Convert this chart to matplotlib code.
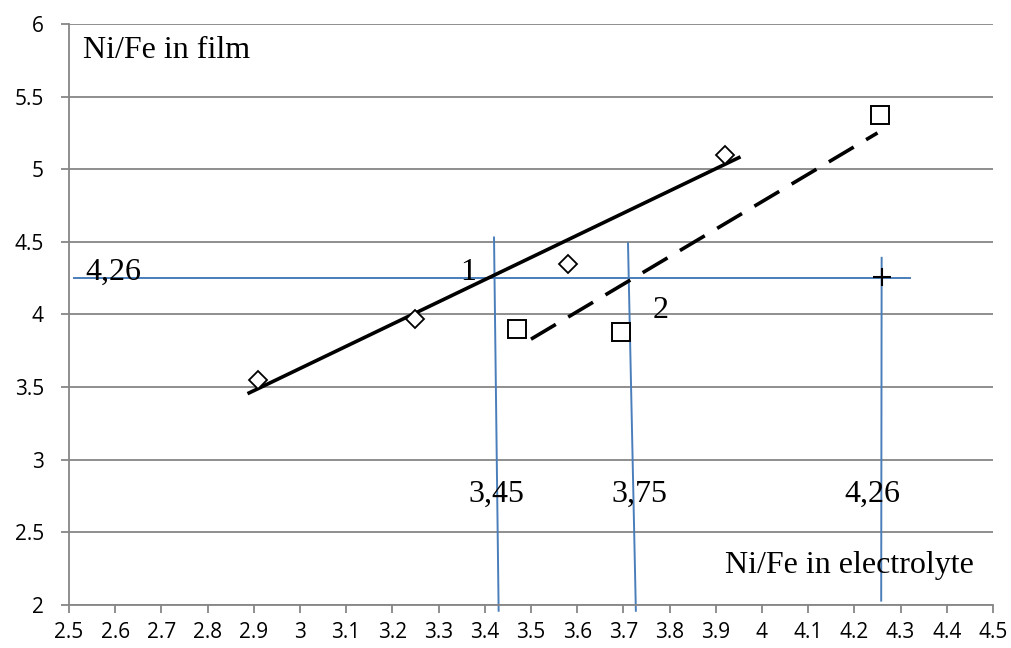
import numpy as np
import matplotlib
matplotlib.use("Agg")
import matplotlib.pyplot as plt

# data
x_curve1 = [2.91, 3.25, 3.58, 3.92]
y_curve1 = [3.55, 3.97, 4.35, 5.10]
x_curve2 = [3.47, 3.695, 4.255]
y_curve2 = [3.90, 3.88, 5.37]
fit1_x = [2.89, 3.95]
fit1_y = [3.46, 5.08]
fit2_x = [3.50, 4.25]
fit2_y = [3.83, 5.25]
target_x = [4.26]
target_y = [4.26]

# blue guide lines
hline_y = 4.25
hline_x = [2.51, 4.32]
vlines_x = [(3.42, 3.43), (3.71, 3.727), (4.259, 4.258)]
vlines_y = [(4.53, 1.96), (4.49, 1.96), (4.39, 2.03)]
guide_labels = ["3,45", "3,75", "4,26"]
guide_label_x = [3.426, 3.734, 4.238]

xticks = np.round(np.arange(2.5, 4.51, 0.1), 1)
yticks = np.arange(2, 6.01, 0.5)

serif = "Liberation Serif"
blue = "#4a7ebb"
grey = "#868686"

fig = plt.figure(figsize=(10.11, 6.48), dpi=100)
ax = fig.add_axes([0.0682, 0.0664, 0.9140, 0.8966])

ax.set_xlim(2.5, 4.5)
ax.set_ylim(2, 6)
ax.set_xticks(xticks)
ax.set_xticklabels(["{:g}".format(t) for t in xticks])
ax.set_yticks(yticks)
ax.set_yticklabels(["{:g}".format(t) for t in yticks])
for s in ["top", "right"]:
    ax.spines[s].set_visible(False)
for s in ["left", "bottom"]:
    ax.spines[s].set_color(grey)
    ax.spines[s].set_linewidth(1.3)
ax.tick_params(axis="both", colors=grey, length=6, width=1.3, labelcolor="black",
               labelsize=15, pad=6)
ax.tick_params(axis="y", pad=12)
for lab in ax.get_xticklabels() + ax.get_yticklabels():
    lab.set_family("Open Sans")
ax.yaxis.grid(True, color=grey, linewidth=1.3)
ax.set_axisbelow(True)

# guide lines
ax.plot(hline_x, [hline_y, hline_y], color=blue, lw=1.4, clip_on=False, zorder=2)
for vx, vy in zip(vlines_x, vlines_y):
    ax.plot(vx, vy, color=blue, lw=1.4, clip_on=False, zorder=2)

# fits
ax.plot(fit1_x, fit1_y, color="black", lw=2.6, zorder=3)
ax.plot(fit2_x, fit2_y, color="black", lw=2.6, dashes=(8, 4), zorder=3)

# points
ax.plot(x_curve1, y_curve1, "D", ms=9.5, mfc="white", mec="black", mew=1.3, ls="none", zorder=4)
ax.plot(x_curve2, y_curve2, "s", ms=13, mfc="white", mec="black", mew=1.4, ls="none", zorder=4)
ax.plot(target_x, target_y, "+", ms=13, color="black", mew=1.5, zorder=4)

# texts
fs = 23
ax.text(2.53, 5.82, "Ni/Fe in film", family=serif, fontsize=fs, va="center", ha="left")
ax.text(3.92, 2.27, "Ni/Fe in electrolyte", family=serif, fontsize=fs, va="center", ha="left")
ax.text(2.535, 4.29, "4,26", family=serif, fontsize=fs, va="center", ha="left")
ax.text(3.364, 4.29, "1", family=serif, fontsize=fs, va="center", ha="center")
ax.text(3.781, 4.03, "2", family=serif, fontsize=fs, va="center", ha="center")
for lx, lab in zip(guide_label_x, guide_labels):
    ax.text(lx, 2.76, lab, family=serif, fontsize=fs, va="center", ha="center")

plt.savefig("out.png", dpi=100)
plt.close()
